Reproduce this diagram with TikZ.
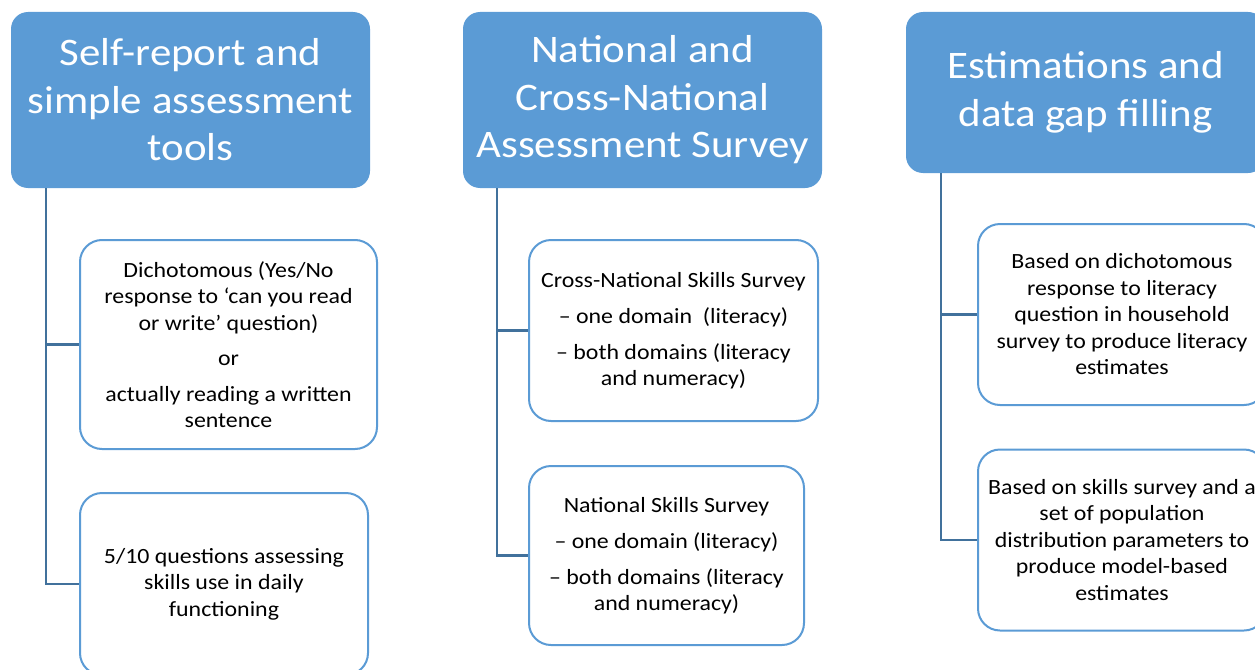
\documentclass[tikz,border=0pt]{standalone}
\usepackage{fontspec}
\setmainfont{Carlito}[FakeStretch=1.1]
\definecolor{headblue}{HTML}{5B9BD5}
\definecolor{linkblue}{HTML}{41719C}
\tikzset{
  head/.style={rectangle,rounded corners=17pt,fill=headblue,text=white,align=center,
    minimum width=359pt,inner sep=0pt,font=\fontsize{39}{47.5}\selectfont},
  item/.style={rectangle,rounded corners=22pt,draw=headblue,line width=2pt,fill=white,
    align=center,inner sep=0pt,font=\fontsize{21.7}{26.5}\selectfont},
  link/.style={draw=linkblue,line width=2.5pt}
}
\begin{document}
\begin{tikzpicture}[x=1pt,y=-1pt]
            \clip (0,0) rectangle (1255,669);
            % headings
            \node [head,minimum height=176pt] (h1) at (190.5,100) {Self-report and\\simple assessment\\tools};
            \node [head,minimum height=176pt] (h2) at (642.5,100) {National and\\Cross-National\\Assessment Survey};
            \node [head,minimum height=161pt] (h3) at (1085.5,92.5) {Estimations and\\data gap filling};
            % first column
            \node [item,minimum width=297pt,minimum height=209pt] (a1) at (228.5,344.5)
                {Dichotomous (Yes/No\\response to ‘can you read\\or write’ question)\\[9pt]or\\[9pt]actually reading a written\\sentence};
            \node [item,minimum width=288pt,minimum height=182pt] (a2) at (224,584)
                {5/10 questions assessing\\skills use in daily\\functioning};
            % second column
            \node [item,minimum width=289pt,minimum height=181pt] (b1) at (673.5,330.5)
                {Cross-National Skills Survey\\[9.5pt]– one domain~ (literacy)\\[9.5pt]– both domains (literacy\\and numeracy)};
            \node [item,minimum width=275pt,minimum height=179pt] (b2) at (666.5,555.5)
                {National Skills Survey\\[9.5pt]– one domain (literacy)\\[9.5pt]– both domains (literacy\\and numeracy)};
            % third column
            \node [item,minimum width=288pt,minimum height=181pt] (c1) at (1122,314.5)
                {Based on dichotomous\\response to literacy\\question in household\\survey to produce literacy\\estimates};
            \node [item,minimum width=288pt,minimum height=181pt] (c2) at (1122,540)
                {Based on skills survey and a\\set of population\\distribution parameters to\\produce model-based\\estimates};
            % connectors
            \draw [link] ([xshift=35pt]h1.south west) |- (a1.west);
            \draw [link] ([xshift=35pt]h1.south west) |- (a2.west);
            \draw [link] ([xshift=34pt]h2.south west) |- (b1.west);
            \draw [link] ([xshift=34pt]h2.south west) |- (b2.west);
            \draw [link] ([xshift=35pt]h3.south west) |- (c1.west);
            \draw [link] ([xshift=35pt]h3.south west) |- (c2.west);
\end{tikzpicture}
\end{document}
